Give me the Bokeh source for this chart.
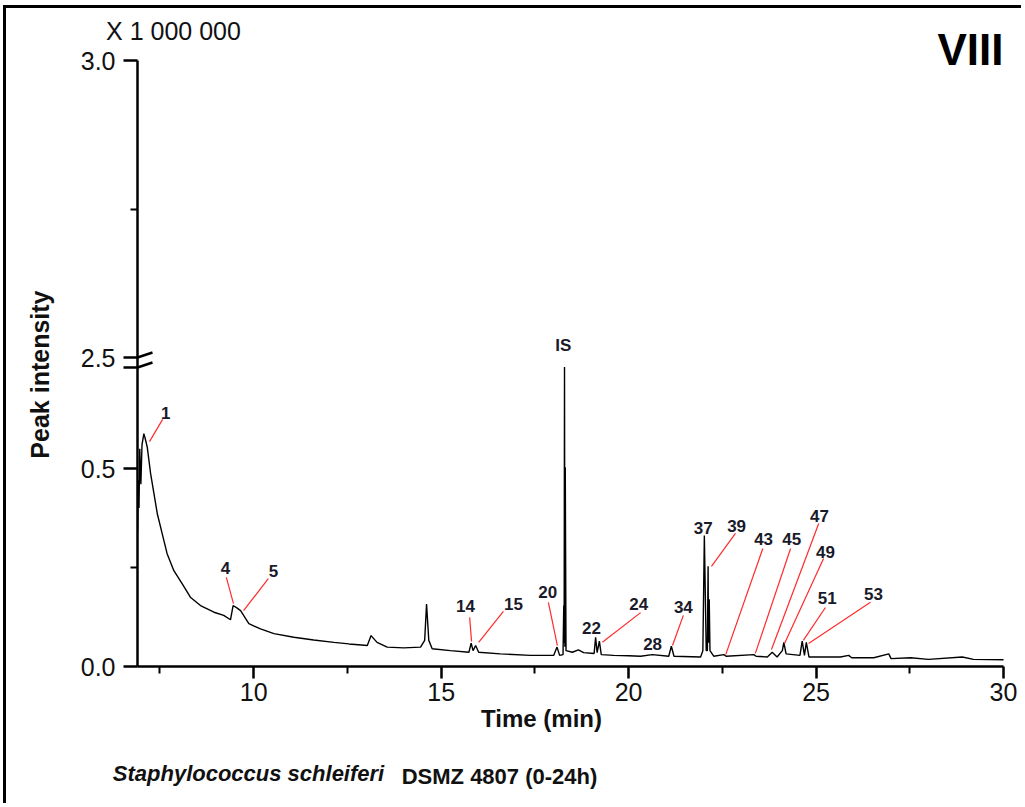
import math
from bokeh.plotting import figure
from bokeh.layouts import column
from bokeh.models import (FixedTicker, CustomJSTickFormatter, LinearAxis, Label,
                          Range1d)
from bokeh.core.properties import value
from bokeh.embed import file_html
from bokeh.resources import INLINE

# ---------------- data (time in min, intensity in x 1 000 000) ----------------
time_min = [6.90, 6.92, 6.94, 6.96, 6.99, 7.02, 7.07, 7.12, 7.16, 7.25, 7.34, 7.43,
            7.56, 7.69, 7.87, 8.09, 8.31, 8.58, 8.94, 9.20, 9.38, 9.45, 9.55, 9.65,
            9.87, 10.18, 10.54, 11.07, 11.60, 12.14, 12.54, 13.03, 13.13, 13.29,
            13.56, 14.00, 14.45, 14.56, 14.61, 14.67, 14.76, 15.25, 15.74, 15.80,
            15.85, 15.92, 16.00, 16.58, 17.38, 18.00, 18.09, 18.16, 18.25, 18.27,
            18.28, 18.29, 18.30, 18.31, 18.33, 18.50, 18.66, 18.80, 19.08, 19.12,
            19.16, 19.22, 19.27, 19.60, 20.00, 20.32, 20.63, 21.07, 21.14, 21.21,
            21.92, 21.98, 22.02, 22.07, 22.10, 22.12, 22.13, 22.15, 22.17, 22.27,
            22.54, 22.60, 23.34, 23.40, 23.70, 23.83, 23.96, 24.10, 24.14, 24.20,
            24.57, 24.63, 24.69, 24.74, 24.81, 25.65, 25.87, 25.95, 26.54, 26.94,
            27.00, 27.52, 28.00, 28.90, 29.20, 30.00]
intensity = [0.34, 0.47, 0.40, 0.55, 0.46, 0.56, 0.588, 0.57, 0.554, 0.487, 0.436, 0.385,
             0.335, 0.285, 0.242, 0.209, 0.175, 0.154, 0.137, 0.129, 0.118, 0.154, 0.148, 0.141,
             0.108, 0.095, 0.083, 0.074, 0.067, 0.061, 0.057, 0.053, 0.078, 0.061,
             0.049, 0.047, 0.049, 0.066, 0.158, 0.066, 0.045, 0.040, 0.036, 0.059,
             0.040, 0.053, 0.036, 0.032, 0.028, 0.028, 0.049, 0.028, 0.030, 0.154,
             0.060, 0.756, 0.050, 0.503, 0.040, 0.036, 0.042, 0.035, 0.033, 0.074,
             0.035, 0.064, 0.030, 0.028, 0.027, 0.026, 0.030, 0.026, 0.051, 0.026,
             0.024, 0.040, 0.331, 0.040, 0.040, 0.253, 0.060, 0.170, 0.040, 0.026,
             0.030, 0.026, 0.030, 0.026, 0.024, 0.036, 0.024, 0.040, 0.061, 0.032,
             0.028, 0.064, 0.028, 0.061, 0.024, 0.024, 0.028, 0.022, 0.022, 0.032,
             0.020, 0.022, 0.018, 0.024, 0.018, 0.017]

peak_names = ["1", "4", "5", "14", "15", "20", "IS", "22", "24", "28", "34",
              "37", "39", "43", "45", "47", "49", "51", "53"]

x_ticks = [10, 15, 20, 25, 30]
x_minor = [7.5, 12.5, 17.5, 22.5, 27.5]
y_low_ticks = [0.0, 0.5]
y_low_minor = [0.25]
y_high_ticks = [2.5, 3.0]
y_high_minor = [2.75]

title_text = "VIII"
scale_text = "X 1 000 000"
x_title = "Time (min)"
y_title = "Peak intensity"
caption_species = "Staphylococcus schleiferi"
caption_strain = "DSMZ 4807 (0-24h)"

# ---------------- layout (annotation positions, data space) ----------------
label_x = [7.65, 9.25, 10.53, 15.65, 16.93, 17.84, 18.26, 19.01, 20.27, 20.64, 21.46,
           21.99, 22.88, 23.60, 24.35, 25.09, 25.25, 25.30, 26.53]
label_y = [0.641, 0.250, 0.240, 0.154, 0.159, 0.187, 0.811, 0.098, 0.159, 0.056, 0.149,
           0.351, 0.356, 0.323, 0.323, 0.379, 0.290, 0.172, 0.184]
lead_x0 = [7.57, 9.27, 10.39, 15.76, 16.66, 17.86, 20.32, 21.46, 22.85, 23.58, 24.32,
           25.07, 25.20, 25.25, 26.45]
lead_y0 = [0.624, 0.225, 0.222, 0.124, 0.139, 0.162, 0.136, 0.129, 0.336, 0.298, 0.298,
           0.361, 0.273, 0.149, 0.162]
lead_x1 = [7.22, 9.46, 9.73, 15.81, 16.00, 18.10, 19.30, 21.17, 22.21, 22.59, 23.38,
           23.81, 24.16, 24.66, 24.80]
lead_y1 = [0.568, 0.159, 0.141, 0.063, 0.061, 0.053, 0.061, 0.053, 0.253, 0.030, 0.033,
           0.043, 0.058, 0.066, 0.058]

LOW_TOP = 0.7803      # display height of the lower segment (where the break sits)
UP_FACTOR = 1.5       # stretch of the upper (2.5-3.0) segment
BRK_GAP = 0.02525     # spacing of the two break slashes


def to_display(v):
    return v if v <= LOW_TOP else LOW_TOP + (v - 2.5) * UP_FACTOR


Y_TOP = to_display(3.0)
X0, X1 = 6.9, 30.0
PX_PER_MIN = 37.49
PX_PER_UNIT = 396.0
OX, OY = 6, 8                      # page offset of the figure (margin + border)
W, H = 1025 - OX - 4, 807 - OY - 4
FRAME_L, FRAME_T, FRAME_B = 137 - OX, 20 - OY, 666 - OY

FONT = "Liberation Sans"
TXT = "#111111"

p = figure(width=W, height=H, output_backend="svg", toolbar_location=None,
           x_range=Range1d(X0, X0 + (W - FRAME_L) / PX_PER_MIN),
           y_range=Range1d(0, (FRAME_B - FRAME_T) / PX_PER_UNIT),
           min_border_left=FRAME_L, min_border_right=0, min_border_top=FRAME_T,
           min_border_bottom=H - FRAME_B)
p.outline_line_color = None
p.xgrid.visible = False
p.ygrid.visible = False
p.background_fill_color = "white"
p.border_fill_color = "white"

# trace
p.line(time_min, [to_display(v) for v in intensity], line_color="black", line_width=1.4)

# leader lines
p.segment(x0=lead_x0, y0=lead_y0, x1=lead_x1, y1=lead_y1,
          line_color="#ff2a2a", line_width=1.2)

# peak labels
p.text(x=label_x, y=label_y, text=peak_names, text_font=value(FONT),
       text_font_size="17px", text_font_style="bold", text_color="#1a1a2a",
       text_align="center", text_baseline="middle")

# break slashes (part right of the axis)
p.segment(x0=[X0, X0], y0=[LOW_TOP, LOW_TOP - BRK_GAP],
          x1=[X0 + 15 / PX_PER_MIN] * 2,
          y1=[LOW_TOP + 5 / PX_PER_UNIT, LOW_TOP - BRK_GAP + 5 / PX_PER_UNIT],
          line_color="black", line_width=2.5)

# panel label
p.add_layout(Label(x=X1, y=(666 - 49) / PX_PER_UNIT, text=title_text, text_font=FONT,
                   text_font_size="44px", text_font_style="bold", text_color="black",
                   text_align="right", text_baseline="middle"))

# main axes
xa = p.xaxis[0]
xa.ticker = FixedTicker(ticks=x_ticks, minor_ticks=x_minor)
xa.bounds = (X0, X1)
ya = p.yaxis[0]
ya.bounds = (0, Y_TOP)
ya.ticker = FixedTicker(ticks=[to_display(v) for v in y_low_ticks]
                        + [LOW_TOP - BRK_GAP]
                        + [to_display(v) for v in y_high_ticks],
                        minor_ticks=[to_display(v) for v in y_low_minor + y_high_minor])
ya.formatter = CustomJSTickFormatter(args=dict(brk=LOW_TOP, f=UP_FACTOR, gap=BRK_GAP),
                                     code="""
    if (Math.abs(tick - (brk - gap)) < 1e-6) return "";
    let v = (tick < brk - 1e-6) ? tick : 2.5 + (tick - brk) / f;
    return v.toFixed(1);
""")
for ax in (xa, ya):
    ax.axis_line_width = 2.5
    ax.axis_line_color = "black"
    ax.major_tick_line_width = 2.5
    ax.minor_tick_line_width = 2
    ax.major_tick_in = 0
    ax.minor_tick_in = 0
    ax.minor_tick_out = 7
    ax.major_label_text_font = FONT
    ax.major_label_text_font_size = "25px"
    ax.major_label_text_color = TXT
xa.major_tick_out = 12
xa.major_label_standoff = 4
ya.major_tick_out = 14
ya.major_label_standoff = 8


def text_axis(side, pos, text, size, style, standoff, orientation="horizontal"):
    ax = LinearAxis(ticker=FixedTicker(ticks=[pos], minor_ticks=[]),
                    formatter=CustomJSTickFormatter(args=dict(txt=text),
                                                    code="return txt;"),
                    axis_line_color=None, major_tick_line_color=None,
                    minor_tick_line_color=None, major_tick_in=0, major_tick_out=0,
                    minor_tick_in=0, minor_tick_out=0,
                    major_label_standoff=standoff,
                    major_label_orientation=orientation,
                    major_label_text_font=FONT, major_label_text_font_size=size,
                    major_label_text_font_style=style, major_label_text_color=TXT)
    p.add_layout(ax, side)
    return ax


# scale note above the axis
text_axis("above", X0 + (173 - 137) / PX_PER_MIN, scale_text, "25px", "normal", -24)
# y title (rotated) left of the tick labels; anchored at its upper end
text_axis("left", (666 - 290) / PX_PER_UNIT, y_title, "25px", "bold", 38, math.pi / 2)
# x title and caption below the axis
text_axis("below", X0 + (541 - 137) / PX_PER_MIN, x_title, "24px", "bold", 1)
text_axis("below", X0 + (248 - 137) / PX_PER_MIN, caption_species, "22px",
          "bold italic", 26)
text_axis("below", X0 + (499 - 137) / PX_PER_MIN, caption_strain, "22px", "bold", -25)

layout = column(p, margin=(5, 0, 0, 3),
                styles={"border-left": "3px solid black", "border-top": "3px solid black"})

open("out.html", "w").write(file_html(layout, INLINE))
